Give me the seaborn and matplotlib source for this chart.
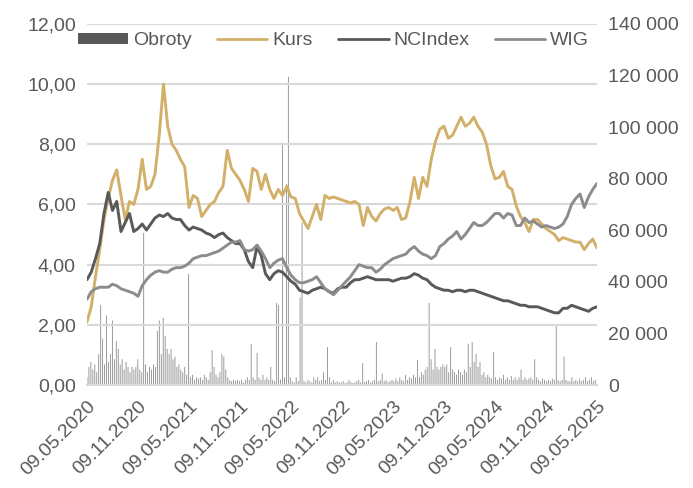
import matplotlib
matplotlib.use('Agg')
import numpy as np
import pandas as pd
import matplotlib.pyplot as plt
from matplotlib.ticker import FuncFormatter, MultipleLocator
from matplotlib.patches import Patch
from matplotlib.lines import Line2D
import seaborn as sns

# Line series (semi-monthly readings, 09.05.2020 - 09.05.2025)
kurs = [2.1, 2.6, 3.6, 4.5, 5.5, 6.2, 6.8, 7.15, 6.3, 5.5, 6.1, 6.0, 6.5, 7.5, 6.5, 6.6, 7.0, 8.3, 10.0, 8.6,
        8.0, 7.8, 7.5, 7.25, 5.9, 6.3, 6.2, 5.6, 5.8, 6.0, 6.1, 6.4, 6.6, 7.8, 7.2, 7.0, 6.8, 6.5, 6.1, 7.2,
        7.1, 6.5, 7.0, 6.5, 6.2, 6.5, 6.3, 6.6, 6.25, 6.2, 5.7, 5.45, 5.2, 5.6, 6.0, 5.5, 6.3, 6.2, 6.25, 6.2,
        6.15, 6.1, 6.05, 6.1, 6.0, 5.3, 5.9, 5.6, 5.45, 5.7, 5.85, 5.9, 5.8, 5.9, 5.5, 5.55, 6.1, 6.9, 6.2, 6.9,
        6.6, 7.5, 8.1, 8.5, 8.6, 8.2, 8.3, 8.6, 8.9, 8.6, 8.7, 8.9, 8.6, 8.4, 8.0, 7.3, 6.85, 6.9, 7.1, 6.6,
        6.5, 5.95, 5.6, 5.4, 5.1, 5.5, 5.5, 5.35, 5.2, 5.1, 5.0, 4.8, 4.9, 4.85, 4.8, 4.75, 4.75, 4.5, 4.7, 4.85,
        4.55]
ncindex = [3.5, 3.75, 4.2, 4.7, 5.7, 6.4, 5.8, 6.1, 5.1, 5.4, 5.7, 5.1, 5.2, 5.35, 5.15, 5.35, 5.55, 5.65, 5.6, 5.7,
           5.55, 5.5, 5.5, 5.3, 5.15, 5.25, 5.2, 5.15, 5.05, 5.0, 4.9, 5.0, 5.05, 4.9, 4.8, 4.7, 4.7, 4.5, 4.1, 3.9,
           4.6, 4.3, 3.7, 3.5, 3.7, 3.8, 3.75, 3.6, 3.45, 3.35, 3.15, 3.1, 3.05, 3.15, 3.2, 3.25, 3.2, 3.1, 3.05, 3.2,
           3.25, 3.25, 3.4, 3.5, 3.5, 3.55, 3.6, 3.55, 3.5, 3.5, 3.5, 3.5, 3.45, 3.5, 3.55, 3.55, 3.6, 3.7, 3.65, 3.55,
           3.5, 3.35, 3.25, 3.2, 3.15, 3.15, 3.1, 3.15, 3.15, 3.1, 3.15, 3.15, 3.1, 3.05, 3.0, 2.95, 2.9, 2.85, 2.8, 2.8,
           2.75, 2.7, 2.65, 2.65, 2.6, 2.6, 2.6, 2.55, 2.5, 2.45, 2.4, 2.4, 2.55, 2.55, 2.65, 2.6, 2.55, 2.5, 2.45, 2.55,
           2.6]
wig = [2.85, 3.1, 3.2, 3.25, 3.25, 3.25, 3.35, 3.3, 3.2, 3.15, 3.1, 3.05, 2.95, 3.3, 3.5, 3.65, 3.75, 3.8, 3.75, 3.75,
       3.85, 3.9, 3.9, 3.95, 4.05, 4.2, 4.25, 4.3, 4.3, 4.35, 4.4, 4.45, 4.55, 4.65, 4.75, 4.75, 4.8, 4.5, 4.45, 4.5,
       4.65, 4.45, 4.2, 3.9, 4.05, 4.15, 4.2, 3.9, 3.65, 3.5, 3.4, 3.4, 3.45, 3.5, 3.6, 3.4, 3.2, 3.1, 3.0, 3.15,
       3.3, 3.45, 3.6, 3.8, 4.0, 3.95, 3.9, 3.9, 3.75, 3.85, 4.0, 4.1, 4.2, 4.25, 4.3, 4.35, 4.5, 4.6, 4.45, 4.35,
       4.3, 4.2, 4.3, 4.6, 4.7, 4.85, 4.95, 5.1, 4.85, 5.0, 5.2, 5.4, 5.3, 5.3, 5.4, 5.55, 5.7, 5.7, 5.55, 5.7,
       5.65, 5.3, 5.3, 5.55, 5.4, 5.45, 5.35, 5.25, 5.3, 5.25, 5.2, 5.25, 5.35, 5.6, 6.0, 6.2, 6.35, 5.9, 6.25, 6.5,
       6.7]

# Weekly turnover (Obroty)
obroty = [3000, 7000, 9000, 6000, 8000, 5000, 12000, 31000, 18000, 8000, 27000, 9000, 12000,
          25000, 10000, 17000, 14000, 8000, 10000, 6000, 9000, 7000, 5000, 7000, 6000, 7000,
          10000, 6000, 5000, 59000, 8000, 5000, 7000, 6000, 8000, 7000, 21000, 25000, 12000,
          26000, 19000, 14000, 12000, 14000, 10000, 11000, 7000, 8000, 6000, 5000, 7000, 4000,
          43000, 3000, 4000, 2000, 3000, 2500, 3000, 2000, 4000, 3000, 2000, 5000, 13500,
          7000, 4000, 3000, 5000, 12000, 11000, 6000, 3000, 2000, 1500, 2000, 1500, 2000,
          1500, 2000, 1000, 2000, 3000, 2000, 16000, 3000, 2000, 12500, 3000, 2000, 4000,
          2000, 3000, 2000, 7000, 2000, 1500, 31800, 31000, 2000, 94000, 3000, 78000, 119500,
          3000, 1500, 1000, 3000, 1500, 34000, 63000, 1500, 1000, 2000, 1500, 1000, 3000,
          2000, 3000, 1500, 2000, 5000, 2000, 14700, 3000, 1000, 2000, 1000, 1500, 1000,
          1000, 1500, 800, 1000, 2000, 1200, 800, 1000, 1500, 2000, 1000, 8500, 1200,
          1500, 2000, 1000, 1500, 2000, 16700, 1500, 2000, 4500, 1500, 2000, 1000, 1500,
          2000, 1500, 2500, 1500, 3000, 2000, 1500, 4000, 2000, 3000, 2500, 4000, 3000,
          9700, 3000, 5000, 4000, 6000, 7000, 31800, 10000, 6000, 14000, 7000, 6000, 7000,
          8000, 7000, 8000, 5000, 14700, 6000, 5000, 4000, 6000, 5000, 4000, 6000, 5000,
          16000, 7000, 16700, 9000, 12000, 7000, 9000, 4000, 5000, 3000, 4000, 3000, 2500,
          12800, 3000, 2000, 3000, 2500, 4000, 2000, 3000, 2000, 3500, 2000, 3000, 2000,
          3000, 6000, 2000, 3000, 2000, 2500, 3000, 2000, 10000, 3000, 2000, 1500, 2500,
          2000, 1500, 2000, 1500, 2500, 2000, 23300, 2000, 1500, 2000, 11000, 2000, 1500,
          1500, 3000, 1500, 2000, 1500, 2500, 1500, 2000, 3000, 1500, 2000, 3000, 1500, 2000]

tick_labels = ['09.05.2020', '09.11.2020', '09.05.2021', '09.11.2021', '09.05.2022', '09.11.2022',
               '09.05.2023', '09.11.2023', '09.05.2024', '09.11.2024', '09.05.2025']

line_dates = pd.date_range('2020-05-09', '2025-05-09', periods=len(kurs))
vol_dates = pd.date_range('2020-05-09', periods=len(obroty), freq='7D')

df = pd.DataFrame({'Data': line_dates, 'Kurs': kurs, 'NCIndex': ncindex, 'WIG': wig})
df_long = df.melt(id_vars='Data', var_name='Seria', value_name='Wartosc')

sns.set_theme(style='white')
plt.rcParams['font.family'] = ['Liberation Sans', 'DejaVu Sans']

grey_txt = '#595959'
colors = {'Kurs': '#D2B06A', 'NCIndex': '#595959', 'WIG': '#8C8C8C'}

fig = plt.figure(figsize=(6.93, 4.88), dpi=100)
ax = fig.add_axes([0.1255, 0.211, 0.736, 0.740])
ax2 = ax.twinx()

# volume bars on the right axis, drawn behind the lines
ax2.bar(vol_dates, obroty, width=3, color='#595959', alpha=0.7, linewidth=0, snap=False)

sns.lineplot(data=df_long, x='Data', y='Wartosc', hue='Seria', palette=colors,
             linewidth=2.1, ax=ax, legend=False)

ax.set_zorder(ax2.get_zorder() + 1)
ax.patch.set_visible(False)

ax.set_ylim(0, 12)
ax2.set_ylim(0, 140000)
ax.yaxis.set_major_locator(MultipleLocator(2))
ax2.yaxis.set_major_locator(MultipleLocator(20000))
ax.yaxis.set_major_formatter(FuncFormatter(lambda v, p: f'{v:.2f}'.replace('.', ',')))
ax2.yaxis.set_major_formatter(FuncFormatter(lambda v, p: f'{int(v):,}'.replace(',', ' ')))

ax.set_xlim(pd.Timestamp('2020-05-09'), pd.Timestamp('2025-05-09'))
ticks = [pd.Timestamp(t[6:] + '-' + t[3:5] + '-' + t[:2]) for t in tick_labels]
ax.set_xticks(ticks)
ax.set_xticklabels(tick_labels, rotation=45, ha='right', rotation_mode='anchor')

ax.grid(axis='y', color='#D9D9D9', linewidth=1.5)
ax.set_axisbelow(True)
ax.set_xlabel('')
ax.set_ylabel('')
ax2.set_ylabel('')

for a in (ax, ax2):
    for s in a.spines.values():
        s.set_visible(False)
ax.spines['bottom'].set_visible(True)
ax.spines['bottom'].set_color('#D9D9D9')
ax.spines['bottom'].set_linewidth(1.5)

ax.tick_params(axis='x', colors='#D9D9D9', labelcolor=grey_txt, labelsize=14,
               length=5, width=1.2, direction='out', pad=4)
ax.tick_params(axis='y', labelcolor=grey_txt, labelsize=14, length=0, pad=8)
ax2.tick_params(axis='y', labelcolor=grey_txt, labelsize=14, length=0, pad=8)

handles = [Patch(facecolor='#595959', edgecolor='none'),
           Line2D([], [], color=colors['Kurs'], linewidth=2),
           Line2D([], [], color=colors['NCIndex'], linewidth=2),
           Line2D([], [], color=colors['WIG'], linewidth=2)]
ax.legend(handles, ['Obroty', 'Kurs', 'NCIndex', 'WIG'], ncol=4, loc='upper center',
          bbox_to_anchor=(0.483, 1.025), frameon=False, fontsize=14, labelcolor=grey_txt,
          handlelength=2.6, handletextpad=0.25, columnspacing=1.3, handleheight=0.45)

fig.savefig('out.png', dpi=100)
